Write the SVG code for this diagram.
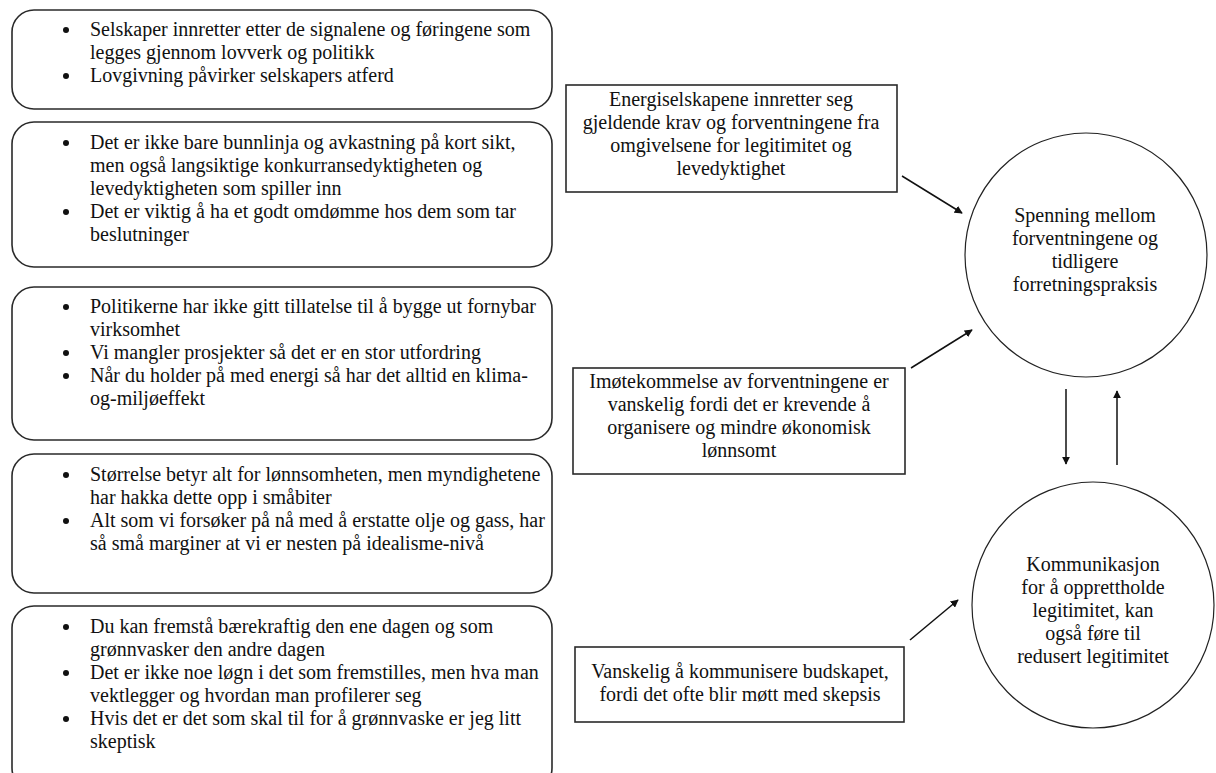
<svg xmlns="http://www.w3.org/2000/svg" width="1216" height="773" viewBox="0 0 1216 773">
<defs>
<style>
.rb{fill:#fff;stroke:#2a2a2a;stroke-width:1.6}
.bx{fill:#fff;stroke:#2a2a2a;stroke-width:1.6}
.el{fill:#fff;stroke:#222;stroke-width:1.2}
.t{font-family:"Liberation Serif","Times New Roman",serif;font-size:20px;fill:#111}
.c{text-anchor:middle}
.bl{fill:#111}
.ln{stroke:#111;stroke-width:1.5;fill:none}
</style>
<marker id="ah" viewBox="0 0 10 10" refX="9" refY="5" markerWidth="8" markerHeight="8" orient="auto" markerUnits="userSpaceOnUse">
<path d="M0,0 L10,5 L0,10 z" fill="#111"/>
</marker>
</defs>
<rect width="1216" height="773" fill="#fff"/>

<g id="box1">
<rect class="rb" x="12" y="10" width="540" height="99" rx="22"/>
<circle class="bl" cx="66" cy="30" r="3"/>
<circle class="bl" cx="66" cy="76" r="3"/>
<text class="t" x="90" y="36">Selskaper innretter etter de signalene og føringene som</text>
<text class="t" x="90" y="59">legges gjennom lovverk og politikk</text>
<text class="t" x="90" y="82">Lovgivning påvirker selskapers atferd</text>
</g>

<g id="box2">
<rect class="rb" x="12" y="122" width="540" height="145" rx="22"/>
<circle class="bl" cx="66" cy="143" r="3"/>
<circle class="bl" cx="66" cy="212" r="3"/>
<text class="t" x="90" y="149">Det er ikke bare bunnlinja og avkastning på kort sikt,</text>
<text class="t" x="90" y="172">men også langsiktige konkurransedyktigheten og</text>
<text class="t" x="90" y="195">levedyktigheten som spiller inn</text>
<text class="t" x="90" y="218">Det er viktig å ha et godt omdømme hos dem som tar</text>
<text class="t" x="90" y="241">beslutninger</text>
</g>

<g id="box3">
<rect class="rb" x="12" y="287" width="540" height="153" rx="22"/>
<circle class="bl" cx="66" cy="307" r="3"/>
<circle class="bl" cx="66" cy="353" r="3"/>
<circle class="bl" cx="66" cy="376" r="3"/>
<text class="t" x="90" y="313">Politikerne har ikke gitt tillatelse til å bygge ut fornybar</text>
<text class="t" x="90" y="336">virksomhet</text>
<text class="t" x="90" y="359">Vi mangler prosjekter så det er en stor utfordring</text>
<text class="t" x="90" y="382">Når du holder på med energi så har det alltid en klima-</text>
<text class="t" x="90" y="405">og-miljøeffekt</text>
</g>

<g id="box4">
<rect class="rb" x="12" y="454" width="540" height="139" rx="22"/>
<circle class="bl" cx="66" cy="475" r="3"/>
<circle class="bl" cx="66" cy="521" r="3"/>
<text class="t" x="90" y="481">Størrelse betyr alt for lønnsomheten, men myndighetene</text>
<text class="t" x="90" y="504">har hakka dette opp i småbiter</text>
<text class="t" x="90" y="527">Alt som vi forsøker på nå med å erstatte olje og gass, har</text>
<text class="t" x="90" y="550">så små marginer at vi er nesten på idealisme-nivå</text>
</g>

<g id="box5">
<rect class="rb" x="12" y="606" width="540" height="184" rx="22"/>
<circle class="bl" cx="66" cy="627" r="3"/>
<circle class="bl" cx="66" cy="673" r="3"/>
<circle class="bl" cx="66" cy="719" r="3"/>
<text class="t" x="90" y="633">Du kan fremstå bærekraftig den ene dagen og som</text>
<text class="t" x="90" y="656">grønnvasker den andre dagen</text>
<text class="t" x="90" y="679">Det er ikke noe løgn i det som fremstilles, men hva man</text>
<text class="t" x="90" y="702">vektlegger og hvordan man profilerer seg</text>
<text class="t" x="90" y="725">Hvis det er det som skal til for å grønnvaske er jeg litt</text>
<text class="t" x="90" y="748">skeptisk</text>
</g>

<g id="boxA">
<rect class="bx" x="566" y="85" width="331" height="107"/>
<text class="t c" x="731" y="106">Energiselskapene innretter seg</text>
<text class="t c" x="731" y="129">gjeldende krav og forventningene fra</text>
<text class="t c" x="731" y="152">omgivelsene for legitimitet og</text>
<text class="t c" x="731" y="175">levedyktighet</text>
</g>

<g id="boxB">
<rect class="bx" x="573" y="368" width="332" height="106"/>
<text class="t c" x="739" y="388">Imøtekommelse av forventningene er</text>
<text class="t c" x="739" y="411">vanskelig fordi det er krevende å</text>
<text class="t c" x="739" y="434">organisere og mindre økonomisk</text>
<text class="t c" x="739" y="457">lønnsomt</text>
</g>

<g id="boxC">
<rect class="bx" x="575" y="647" width="329" height="75"/>
<text class="t c" x="740" y="678">Vanskelig å kommunisere budskapet,</text>
<text class="t c" x="740" y="701">fordi det ofte blir møtt med skepsis</text>
</g>

<g id="circle1">
<ellipse class="el" cx="1086" cy="255" rx="121" ry="122"/>
<text class="t c" x="1085" y="222">Spenning mellom</text>
<text class="t c" x="1085" y="245">forventningene og</text>
<text class="t c" x="1085" y="268">tidligere</text>
<text class="t c" x="1085" y="291">forretningspraksis</text>
</g>

<g id="circle2">
<ellipse class="el" cx="1093" cy="605" rx="121" ry="123"/>
<text class="t c" x="1093" y="571">Kommunikasjon</text>
<text class="t c" x="1093" y="594">for å opprettholde</text>
<text class="t c" x="1093" y="617">legitimitet, kan</text>
<text class="t c" x="1093" y="640">også føre til</text>
<text class="t c" x="1093" y="663">redusert legitimitet</text>
</g>

<g id="connectors">
<line class="ln" x1="902" y1="176" x2="962" y2="213" marker-end="url(#ah)"/>
<line class="ln" x1="911" y1="368" x2="972" y2="330" marker-end="url(#ah)"/>
<line class="ln" x1="910" y1="640" x2="958" y2="600" marker-end="url(#ah)"/>
<line class="ln" x1="1066" y1="389" x2="1066" y2="464" marker-end="url(#ah)"/>
<line class="ln" x1="1117" y1="465" x2="1117" y2="391" marker-end="url(#ah)"/>
</g>
</svg>
